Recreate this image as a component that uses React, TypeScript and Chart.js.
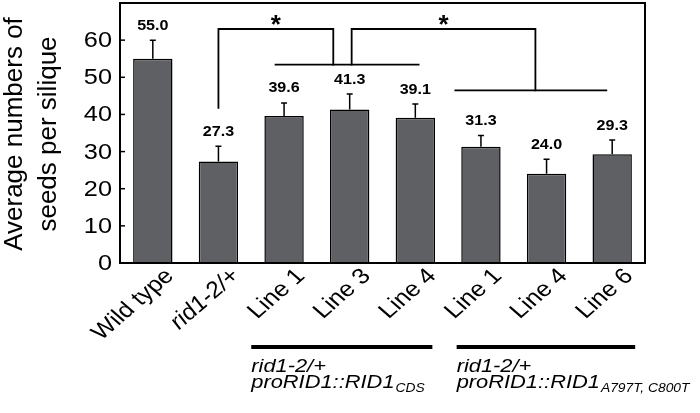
import React, { useEffect, useRef } from "react";
import { Chart, registerables } from "chart.js";

Chart.register(...registerables);

// ---- data ----
const categories = ["Wild type", "rid1-2/+", "Line 1", "Line 3", "Line 4", "Line 1", "Line 4", "Line 6"];
const italicCategory = [false, true, false, false, false, false, false, false];
const means = [55.0, 27.3, 39.6, 41.3, 39.1, 31.3, 24.0, 29.3];
const errors = [5.0, 4.1, 3.5, 4.2, 3.7, 3.0, 3.9, 3.8];
const yTicks = [0, 10, 20, 30, 40, 50, 60];
const yMax = 70;
const yTitleLines = ["Average numbers of", "seeds per silique"];

// significance annotation: [category index, value]
const bracketPaths: number[][][] = [
  [[1, 41.8], [1, 63], [2.75, 63], [2.75, 53.4]],
  [[1.87, 53.4], [4.05, 53.4]],
  [[3.03, 53.4], [3.03, 63], [5.83, 63], [5.83, 46.5]],
  [[4.61, 46.5], [6.91, 46.5]],
];
const stars: number[][] = [[1.875, 66], [4.43, 66]];

// group annotation below axis: [start index, end index]
const groupLines: number[][] = [[1.5, 4.26], [4.63, 7.35]];
const groupLine1 = ["rid1-2/+", "rid1-2/+"];
const groupLine2 = ["proRID1::RID1", "proRID1::RID1"];
const groupSub = ["CDS", "A797T, C800T"];

const FONT = '"Liberation Sans", Arial, Helvetica, sans-serif';
const SX = 1.15;

function txt(
  ctx: CanvasRenderingContext2D,
  text: string,
  x: number,
  y: number,
  font: string,
  align: CanvasTextAlign,
  baseline: CanvasTextBaseline,
  rot = 0,
  sx = SX
) {
  ctx.save();
  const c = Math.cos(rot);
  const s = Math.sin(rot);
  ctx.setTransform(sx * c, s, -sx * s, c, x, y);
  ctx.font = font;
  ctx.textAlign = align;
  ctx.textBaseline = baseline;
  ctx.fillStyle = "#000";
  ctx.fillText(text, 0, 0);
  ctx.restore();
}

const annotations = {
  id: "annotations",
  afterDraw(chart: any) {
    const ctx: CanvasRenderingContext2D = chart.ctx;
    const { left, right, top, bottom } = chart.chartArea;
    const xs = chart.scales.x;
    const ys = chart.scales.y;
    const x0 = xs.getPixelForValue(0);
    const x1 = xs.getPixelForValue(1);
    const xAt = (f: number) => x0 + f * (x1 - x0);
    const yAt = (v: number) => ys.getPixelForValue(v);

    ctx.save();
    ctx.strokeStyle = "#000";
    ctx.lineWidth = 2;
    ctx.strokeRect(left, top, right - left, bottom - top);

    ctx.lineWidth = 1.5;
    yTicks.forEach((t) => {
      const y = yAt(t);
      if (t > 0) {
        ctx.beginPath();
        ctx.moveTo(left, y);
        ctx.lineTo(left + 5, y);
        ctx.stroke();
      }
      txt(ctx, String(t), left - 8, y + 1, `22px ${FONT}`, "right", "middle");
    });

    yTitleLines.forEach((line, i) => {
      const x = i === 0 ? 22 : 56;
      txt(ctx, line, x, (top + bottom) / 2 + 1, `26px ${FONT}`, "center", "alphabetic", -Math.PI / 2, 1);
    });

    means.forEach((m, i) => {
      const cx = xAt(i);
      const yTop = yAt(m + errors[i]);
      const yBar = yAt(m);
      ctx.lineWidth = 1.5;
      ctx.beginPath();
      ctx.moveTo(cx, yBar);
      ctx.lineTo(cx, yTop);
      ctx.moveTo(cx - 3, yTop);
      ctx.lineTo(cx + 3, yTop);
      ctx.stroke();
      txt(ctx, m.toFixed(1), cx, yTop - 10.5, `bold 14px ${FONT}`, "center", "alphabetic");
    });

    ctx.lineWidth = 1.8;
    ctx.lineCap = "square";
    bracketPaths.forEach((path) => {
      ctx.beginPath();
      path.forEach(([f, v], k) => {
        if (k === 0) ctx.moveTo(xAt(f), yAt(v));
        else ctx.lineTo(xAt(f), yAt(v));
      });
      ctx.stroke();
    });
    ctx.lineCap = "butt";
    stars.forEach(([f, v]) => {
      txt(ctx, "*", xAt(f), yAt(v) + 15, `bold 26px ${FONT}`, "center", "alphabetic", 0, 1);
    });

    categories.forEach((c, i) => {
      const font = `${italicCategory[i] ? "italic " : ""}22px ${FONT}`;
      txt(ctx, c, xAt(i) + 22, bottom + 14, font, "right", "alphabetic", -Math.PI / 4);
    });

    groupLines.forEach(([a, b], g) => {
      const xa = xAt(a);
      const xb = xAt(b);
      ctx.fillStyle = "#000";
      ctx.fillRect(xa, bottom + 82, xb - xa, 4);
      txt(ctx, groupLine1[g], xa, bottom + 109, `italic 19px ${FONT}`, "left", "alphabetic");
      txt(ctx, groupLine2[g], xa, bottom + 125, `italic 19px ${FONT}`, "left", "alphabetic");
      ctx.font = `italic 19px ${FONT}`;
      const w = ctx.measureText(groupLine2[g]).width * SX;
      txt(ctx, groupSub[g], xa + w + 1, bottom + 129, `italic 12px ${FONT}`, "left", "alphabetic");
    });
    ctx.restore();
  },
};

export default function App() {
  const ref = useRef<HTMLCanvasElement | null>(null);
  useEffect(() => {
    document.body.style.margin = "0";
    const canvas = ref.current;
    if (!canvas) return;
    const chart = new Chart(canvas, {
      type: "bar",
      data: {
        labels: categories,
        datasets: [
          {
            data: means,
            backgroundColor: "#5f6063",
            borderColor: "#000",
            borderWidth: 1.5,
            barPercentage: 0.6,
            categoryPercentage: 1,
          },
        ],
      },
      options: {
        responsive: false,
        animation: false,
        layout: { padding: { left: 120, right: 55, top: 3, bottom: 150 } },
        plugins: { legend: { display: false }, tooltip: { enabled: false } },
        scales: {
          x: { display: false },
          y: { display: false, min: 0, max: yMax },
        },
      },
      plugins: [annotations],
    });
    return () => chart.destroy();
  }, []);
  return <canvas ref={ref} width={700} height={413} style={{ display: "block" }} />;
}
